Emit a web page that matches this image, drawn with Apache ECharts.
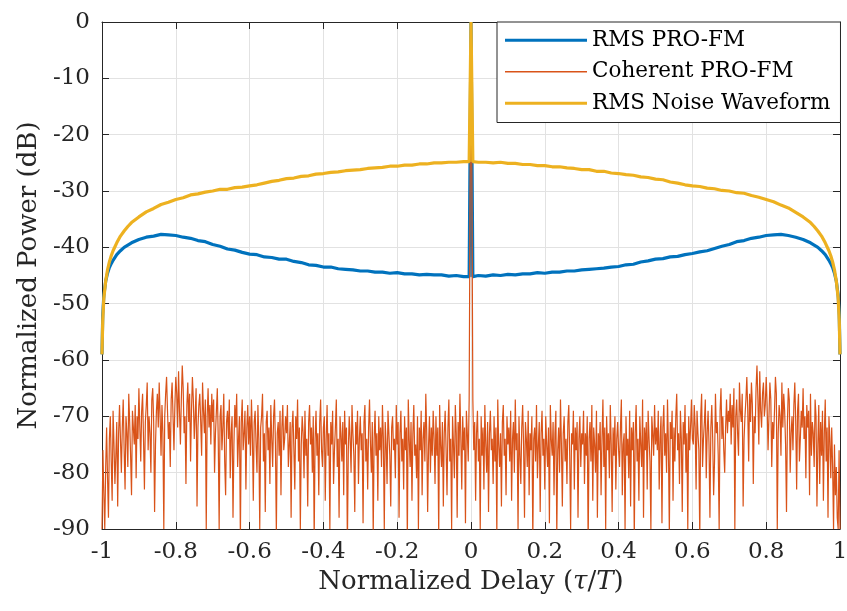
<!DOCTYPE html>
<html><head><meta charset="utf-8">
<script src="https://cdn.jsdelivr.net/npm/echarts@6/dist/echarts.min.js"></script>
<style>html,body{margin:0;padding:0;background:#fff}#chart{width:847px;height:611px}</style>
</head><body><div id="chart"></div>
<script>
// Delay grid (tau/T) for the two RMS curves
const rmsDelay = [
-1, -0.998, -0.995, -0.99, -0.985, -0.98, -0.975, -0.97, -0.96, -0.95, -0.94, -0.93, -0.92,
-0.9, -0.88, -0.86, -0.84, -0.82, -0.8, -0.78, -0.76, -0.74, -0.72, -0.7, -0.68, -0.66, -0.64, -0.62,
-0.6, -0.58, -0.56, -0.54, -0.52, -0.5, -0.48, -0.46, -0.44, -0.42, -0.4, -0.38, -0.36, -0.34, -0.32,
-0.3, -0.28, -0.26, -0.24, -0.22, -0.2, -0.18, -0.16, -0.14, -0.12, -0.1, -0.08, -0.06, -0.04, -0.02,
-0.005, 0, 0.005,
0.02, 0.04, 0.06, 0.08, 0.1, 0.12, 0.14, 0.16, 0.18, 0.2, 0.22, 0.24, 0.26, 0.28, 0.3,
0.32, 0.34, 0.36, 0.38, 0.4, 0.42, 0.44, 0.46, 0.48, 0.5, 0.52, 0.54, 0.56, 0.58, 0.6,
0.62, 0.64, 0.66, 0.68, 0.7, 0.72, 0.74, 0.76, 0.78, 0.8, 0.82, 0.84, 0.86, 0.88, 0.9,
0.92, 0.93, 0.94, 0.95, 0.96, 0.97, 0.975, 0.98, 0.985, 0.99, 0.995, 0.998, 1
];
const rmsProFm = [
-59, -52, -48.5, -46, -44.6, -43.6, -42.9, -42.3, -41.3, -40.6, -40.0, -39.6, -39.2,
-38.6, -38.2, -38.0, -37.7, -37.8, -37.9, -38.2, -38.4, -38.8, -39.0, -39.5, -39.8, -40.3, -40.5, -40.9,
-41.2, -41.3, -41.7, -41.8, -42.1, -42.1, -42.5, -42.7, -43.1, -43.2, -43.5, -43.5, -43.8, -43.9, -44.0,
-44.2, -44.2, -44.4, -44.4, -44.6, -44.5, -44.7, -44.7, -44.9, -44.8, -44.9, -44.9, -45.1, -45.0, -45.2,
-45.2, 0, -45.2,
-45.0, -45.1, -44.9, -45.0, -44.8, -44.9, -44.7, -44.7, -44.5, -44.6, -44.4, -44.4, -44.2, -44.2, -44.0,
-43.9, -43.8, -43.7, -43.5, -43.4, -43.1, -43.0, -42.6, -42.4, -42.1, -42.0, -41.7, -41.6, -41.3, -41.1,
-40.8, -40.6, -40.2, -39.8, -39.5, -39.0, -38.8, -38.4, -38.2, -37.9, -37.8, -37.7, -37.9, -38.2, -38.6,
-39.2, -39.6, -40.0, -40.6, -41.3, -42.3, -42.9, -43.6, -44.6, -46, -48.5, -52, -59
];
const rmsNoise = [
-59, -53, -49, -46, -44, -42.6, -41.5, -40.6, -39.2, -38.0, -37.1, -36.3, -35.6,
-34.6, -33.7, -33.1, -32.4, -32.0, -31.5, -31.2, -30.7, -30.5, -30.2, -30.0, -29.7, -29.7, -29.4, -29.3,
-29.1, -28.9, -28.6, -28.3, -28.1, -27.8, -27.7, -27.4, -27.3, -27.0, -26.9, -26.7, -26.6, -26.4, -26.3,
-26.2, -26.0, -25.9, -25.8, -25.6, -25.6, -25.4, -25.4, -25.2, -25.2, -25.0, -25.0, -24.9, -24.9, -24.8,
-24.8, 0, -24.8,
-24.9, -24.9, -25.0, -24.9, -25.1, -25.1, -25.3, -25.3, -25.5, -25.5, -25.7, -25.7, -25.9, -26.0, -26.2,
-26.2, -26.5, -26.5, -26.8, -26.9, -27.1, -27.2, -27.5, -27.6, -27.9, -28.0, -28.4, -28.6, -28.9, -29.1,
-29.2, -29.5, -29.6, -29.9, -30.0, -30.3, -30.4, -30.8, -31.1, -31.5, -31.9, -32.5, -33.0, -33.8, -34.6,
-35.6, -36.3, -37.1, -38.0, -39.2, -40.6, -41.5, -42.6, -44, -46, -49, -53, -59
];
// Coherent PRO-FM, evenly sampled: negative delays (from -1 up to just below 0)
const coherentNeg = [
-90, -76, -84, -90, -79, -72, -81, -88, -74, -70,
-78, -85, -69, -75, -82, -77, -71, -86, -73, -68,
-74, -80, -72, -67, -76, -83, -70, -73, -79, -66,
-71, -77, -84, -69, -72, -75, -68, -81, -70, -74,
-65, -72, -78, -69, -66, -74, -83, -71, -68, -64,
-76, -70, -73, -80, -67, -65, -71, -87, -75, -69,
-66, -72, -64, -70, -77, -68, -73, -90, -70, -66,
-63, -69, -74, -71, -79, -67, -64, -70, -76, -68,
-63, -66, -72, -62, -69, -75, -67, -61, -65, -73,
-70, -82, -68, -64, -71, -66, -78, -69, -63, -67,
-74, -70, -65, -86, -72, -68, -66, -71, -77, -64,
-69, -73, -67, -90, -70, -65, -72, -68, -75, -66,
-71, -67, -80, -73, -69, -65, -74, -90, -70, -68,
-76, -72, -66, -78, -84, -71, -69, -74, -67, -81,
-73, -70, -88, -75, -68, -72, -66, -79, -74, -70,
-92, -71, -67, -76, -73, -69, -83, -72, -68, -75,
-70, -77, -67, -73, -85, -71, -69, -75, -80, -68,
-74, -90, -72, -70, -66, -78, -73, -87, -71, -69,
-76, -72, -82, -68, -74, -79, -70, -67, -75, -91,
-73, -71, -77, -69, -84, -72, -68, -76, -74, -70,
-73, -68, -79, -75, -71, -88, -72, -69, -76, -83,
-70, -74, -67, -78, -72, -90, -75, -70, -73, -81,
-69, -77, -74, -86, -71, -68, -75, -72, -80, -70,
-92, -74, -69, -77, -73, -84, -71, -67, -76, -79,
-72, -70, -85, -74, -68, -77, -73, -90, -71, -75,
-69, -82, -76, -72, -67, -79, -74, -88, -70, -73,
-78, -71, -84, -69, -75, -72, -93, -76, -70, -74,
-80, -68, -73, -77, -87, -71, -75, -69, -82, -74,
-70, -76, -73, -89, -71, -68, -78, -74, -83, -72,
-67, -75, -80, -71, -91, -74, -69, -77, -73, -85,
-70, -76, -72, -79, -68, -74, -90, -71, -75, -82,
-69, -73, -77, -86, -72, -70, -76, -74, -81, -68,
-75, -71, -88, -73, -69, -78, -74, -83, -70, -76,
-72, -92, -67, -74, -79, -71, -85, -73, -68, -77,
-75, -81, -70, -90, -72, -76, -69, -84, -74, -71,
-78, -66, -73, -87, -75, -70, -80, -72, -77, -69,
-74, -82, -70, -77, -72, -91, -68, -75, -79, -71,
-86, -73, -69, -76, -84, -72, -67, -78, -74, -90,
-70, -75, -81, -68, -73, -88, -71, -77, -66, -74,
-83, -70, -76, -72, -89, -69, -73, -78, -67, -30
];
const coherentPeak = 0;
// Coherent PRO-FM: positive delays (from just above 0 up to 1)
const coherentPos = [
-30, -67, -76, -71, -85, -73, -69, -78, -74, -90,
-70, -77, -72, -83, -68, -75, -80, -71, -87, -73,
-69, -76, -74, -82, -70, -78, -72, -91, -67, -75,
-79, -73, -86, -71, -68, -77, -74, -84, -70, -75,
-72, -78, -69, -85, -74, -71, -80, -67, -76, -73,
-90, -70, -77, -82, -72, -68, -75, -88, -71, -74,
-79, -69, -84, -73, -76, -70, -92, -74, -72, -78,
-68, -81, -75, -71, -87, -73, -69, -77, -74, -83,
-70, -75, -79, -72, -89, -68, -74, -77, -71, -84,
-73, -69, -91, -76, -72, -80, -67, -75, -86, -73,
-70, -78, -74, -82, -71, -68, -77, -90, -73, -75,
-69, -83, -72, -76, -71, -88, -74, -70, -79, -73,
-75, -69, -82, -73, -77, -70, -93, -74, -71, -78,
-68, -85, -72, -75, -80, -69, -88, -73, -76, -71,
-84, -74, -67, -79, -72, -90, -70, -76, -73, -81,
-68, -75, -87, -72, -77, -70, -83, -74, -71, -76,
-79, -72, -67, -84, -75, -73, -90, -70, -77, -74,
-81, -69, -86, -72, -76, -71, -92, -73, -68, -78,
-74, -85, -70, -75, -79, -67, -88, -72, -76, -71,
-83, -69, -74, -78, -90, -70, -73, -77, -68, -75,
-72, -76, -69, -83, -74, -70, -89, -72, -68, -77,
-73, -80, -67, -75, -91, -71, -74, -69, -85, -72,
-78, -70, -66, -76, -73, -82, -69, -74, -87, -71,
-75, -68, -80, -73, -90, -70, -76, -72, -67, -74,
-75, -68, -72, -83, -69, -73, -76, -92, -70, -66,
-79, -74, -71, -67, -81, -73, -69, -75, -88, -72,
-68, -74, -84, -78, -66, -73, -71, -77, -90, -69,
-65, -74, -70, -76, -80, -72, -67, -73, -69, -71,
-66, -75, -68, -72, -65, -90, -70, -67, -73, -77,
-64, -69, -71, -66, -86, -74, -70, -67, -63, -69,
-78, -66, -71, -64, -68, -82, -70, -73, -65, -61,
-67, -75, -62, -69, -72, -66, -64, -70, -68, -63,
-68, -76, -70, -64, -67, -79, -71, -74, -69, -63,
-66, -90, -73, -68, -70, -77, -64, -72, -66, -69,
-75, -87, -71, -65, -67, -80, -73, -70, -76, -68,
-64, -71, -83, -69, -66, -78, -74, -69, -72, -65,
-74, -70, -81, -68, -72, -69, -84, -66, -77, -71,
-73, -79, -67, -70, -86, -75, -68, -82, -71, -77,
-69, -85, -73, -67, -78, -72, -88, -70, -74, -81,
-72, -79, -90, -75, -84, -79, -88, -90, -76, -90
];
const xTicks = { min: -1, max: 1, interval: 0.2 };
const yTicks = { min: -90, max: 0, interval: 10 };
const seriesNames = ['RMS PRO-FM', 'Coherent PRO-FM', 'RMS Noise Waveform'];

const FONT = "'DejaVu Serif', serif";
const AX = '#262626';
const pair = (xs, ys) => ys.map((y, i) => [xs[i], y]);
const stepNeg = 1 / coherentNeg.length, stepPos = 1 / coherentPos.length;
const coherentData = []
  .concat(coherentNeg.map((y, i) => [-1 + i * stepNeg, y]))
  .concat([[0, coherentPeak]])
  .concat(coherentPos.map((y, i) => [(i + 1) * stepPos, y]));

const chart = echarts.init(document.getElementById('chart'), null, { renderer: 'canvas' });
const axisCommon = {
  axisLine: { show: true, onZero: false, lineStyle: { color: AX, width: 1 } },
  axisTick: { show: true, inside: true, length: 7, lineStyle: { color: AX, width: 1 } },
};
chart.setOption({
  animation: false,
  backgroundColor: '#fff',
  grid: { left: 102, right: 7, top: 22, bottom: 82, containLabel: false, outerBoundsMode: 'none' },
  legend: {
    orient: 'vertical', left: 497, top: 22,
    padding: [7, 10, 8, 8], itemGap: 9, itemWidth: 82, itemHeight: 14,
    backgroundColor: '#fff', borderColor: AX, borderWidth: 1, borderRadius: 0,
    selectedMode: false,
    textStyle: { fontFamily: FONT, fontSize: 21.5, color: '#000', lineHeight: 22.5 },
    data: [
      { name: seriesNames[0], icon: 'path://M0,0H82V3.2H0Z', itemStyle: { color: '#0072BD' } },
      { name: seriesNames[1], icon: 'path://M0,0H82V1.3H0Z', itemStyle: { color: '#D95319' } },
      { name: seriesNames[2], icon: 'path://M0,0H82V3.2H0Z', itemStyle: { color: '#EDB120' } }
    ]
  },
  xAxis: [
    Object.assign({
      type: 'value', position: 'bottom', min: xTicks.min, max: xTicks.max, interval: xTicks.interval,
      axisLabel: { fontFamily: FONT, fontSize: 23, color: AX, margin: 12,
        formatter: v => String(Math.round(v * 10) / 10) },
      splitLine: { show: true, lineStyle: { color: '#e2e2e2', width: 1 } },
      name: 'Normalized Delay ({i|τ}/{i|T})', nameLocation: 'middle', nameGap: 37,
      nameTextStyle: { fontFamily: FONT, fontSize: 26, color: AX,
        rich: { i: { fontFamily: FONT, fontSize: 26, fontStyle: 'italic', color: AX } } }
    }, axisCommon),
    Object.assign({
      type: 'value', position: 'top', min: xTicks.min, max: xTicks.max, interval: xTicks.interval,
      axisLabel: { show: false }, splitLine: { show: false }
    }, axisCommon)
  ],
  yAxis: [
    Object.assign({
      type: 'value', position: 'left', min: yTicks.min, max: yTicks.max, interval: yTicks.interval,
      axisLabel: { fontFamily: FONT, fontSize: 23, color: AX, margin: 12 },
      splitLine: { show: true, lineStyle: { color: '#e2e2e2', width: 1 } },
      name: 'Normalized Power (dB)', nameLocation: 'middle', nameGap: 60,
      nameTextStyle: { fontFamily: FONT, fontSize: 26, color: AX }
    }, axisCommon),
    Object.assign({
      type: 'value', position: 'right', min: yTicks.min, max: yTicks.max, interval: yTicks.interval,
      axisLabel: { show: false }, splitLine: { show: false }
    }, axisCommon)
  ],
  series: [
    { name: seriesNames[0], type: 'line', data: pair(rmsDelay, rmsProFm), symbol: 'none', clip: true,
      lineStyle: { color: '#0072BD', width: 3.2 }, itemStyle: { color: '#0072BD' }, z: 2 },
    { name: seriesNames[1], type: 'line', data: coherentData, symbol: 'none', clip: true,
      lineStyle: { color: '#D95319', width: 1.2 }, itemStyle: { color: '#D95319' }, z: 3 },
    { name: seriesNames[2], type: 'line', data: pair(rmsDelay, rmsNoise), symbol: 'none', clip: true,
      lineStyle: { color: '#EDB120', width: 3.2 }, itemStyle: { color: '#EDB120' }, z: 4 }
  ]
});
</script></body></html>
